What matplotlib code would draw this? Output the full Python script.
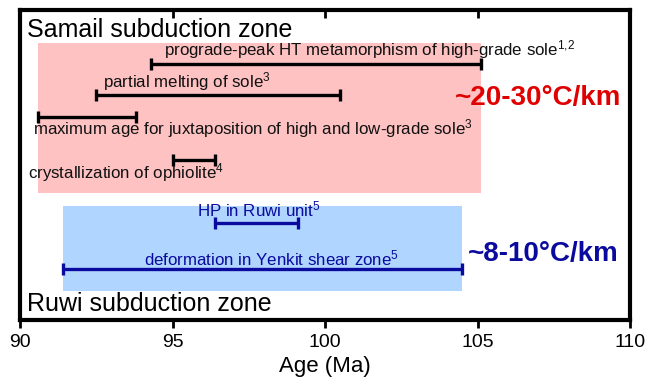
import matplotlib
matplotlib.use("Agg")
import matplotlib.pyplot as plt
from matplotlib.patches import Rectangle

plt.rcParams['font.family'] = ['Liberation Sans', 'DejaVu Sans']
plt.rcParams['mathtext.fontset'] = 'custom'
plt.rcParams['mathtext.rm'] = 'Liberation Sans'
plt.rcParams['mathtext.it'] = 'Liberation Sans'
plt.rcParams['mathtext.bf'] = 'Liberation Sans:bold'

# Data: age ranges (Ma)
samail_labels = ["prograde-peak HT metamorphism of high-grade sole$^{1{,}2}$",
                 "partial melting of sole$^{3}$",
                 "maximum age for juxtaposition of high and low-grade sole$^{3}$",
                 "crystallization of ophiolite$^{4}$"]
samail_start = [94.3, 92.5, 90.6, 95.0]
samail_end = [105.1, 100.5, 93.8, 96.4]

ruwi_labels = ["HP in Ruwi unit$^{5}$", "deformation in Yenkit shear zone$^{5}$"]
ruwi_start = [96.4, 91.4]
ruwi_end = [99.1, 104.5]

samail_box = (90.6, 105.1)
ruwi_box = (91.4, 104.5)

xticks = [90, 95, 100, 105, 110]

# layout (vertical positions, arbitrary units; top = 0)
samail_bar_y = [54, 85, 107, 150]
samail_lab_xy = [(101.45, 40), (95.48, 72), (97.64, 119), (93.48, 163)]
ruwi_bar_y = [213, 259]
ruwi_lab_xy = [(97.84, 199), (98.26, 248)]

red = '#E00000'
blue = '#0A0A9E'

fig = plt.figure(figsize=(6.46, 3.79), dpi=100)
ax = fig.add_axes([20/646, 1-320/379, 610/646, 310/379])
ax.set_xlim(90, 110)
ax.set_ylim(310, 0)

ax.add_patch(Rectangle((samail_box[0], 33), samail_box[1]-samail_box[0], 150,
                       facecolor='#FFC2C2', edgecolor='none', zorder=0))
ax.add_patch(Rectangle((ruwi_box[0], 196), ruwi_box[1]-ruwi_box[0], 85,
                       facecolor='#B0D6FF', edgecolor='none', zorder=0))

for s, e, y, lab, (lx, ly) in zip(samail_start, samail_end, samail_bar_y, samail_labels, samail_lab_xy):
    ax.errorbar((s+e)/2, y, xerr=(e-s)/2, fmt='none', ecolor='black', elinewidth=2.4,
                capsize=4.5, capthick=2.4)
    ax.text(lx, ly, lab, ha='center', va='center', fontsize=12.2, color='#111111')

for s, e, y, lab, (lx, ly) in zip(ruwi_start, ruwi_end, ruwi_bar_y, ruwi_labels, ruwi_lab_xy):
    ax.errorbar((s+e)/2, y, xerr=(e-s)/2, fmt='none', ecolor=blue, elinewidth=2.4,
                capsize=4.5, capthick=2.4)
    ax.text(lx, ly, lab, ha='center', va='center', fontsize=12.2, color=blue)

ax.text(90.23, 20, "Samail subduction zone", ha='left', va='center', fontsize=18, color='black')
ax.text(90.23, 294, "Ruwi subduction zone", ha='left', va='center', fontsize=18, color='black')
ax.text(104.26, 88, "~20-30°C/km", ha='left', va='center', fontsize=20, fontweight='bold', color=red)
ax.text(104.69, 244, "~8-10°C/km", ha='left', va='center', fontsize=20, fontweight='bold', color=blue)

for sp in ax.spines.values():
    sp.set_linewidth(3)
ax.set_yticks([])
ax.set_xticks(xticks)
ax.set_xticklabels([str(t) for t in xticks], fontsize=14)
ax.tick_params(axis='x', bottom=True, top=False, direction='out', length=6, width=2, pad=4)
ax2 = ax.secondary_xaxis('top')
ax2.set_xticks(xticks)
ax2.set_xticklabels([])
ax2.tick_params(axis='x', direction='in', length=6, width=2)
ax2.spines['top'].set_visible(False)
ax.set_xlabel("Age (Ma)", fontsize=16, labelpad=4)

fig.savefig("out.png", dpi=100)
